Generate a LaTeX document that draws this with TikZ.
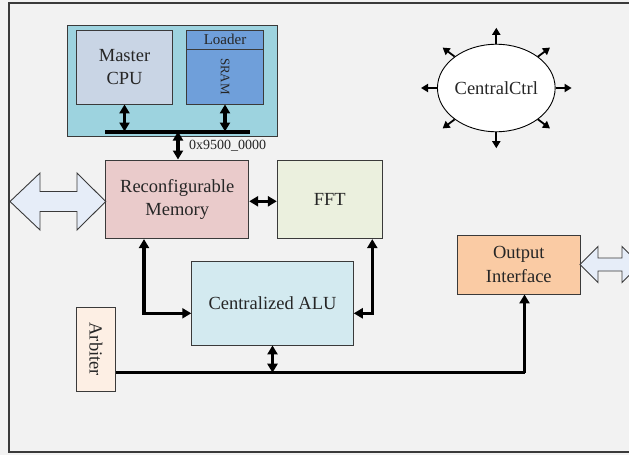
\documentclass[tikz,border=0pt]{standalone}
\usepackage{fontspec}
\setmainfont{Liberation Serif}
\usetikzlibrary{arrows.meta,shapes.geometric}
\definecolor{bg}{HTML}{F2F2F2}
\definecolor{ink}{HTML}{262626}
\definecolor{edge}{HTML}{3A3A3A}
\definecolor{teal}{HTML}{9DD3DF}
\definecolor{cpuc}{HTML}{C9D5E5}
\definecolor{sramc}{HTML}{6F9FDA}
\definecolor{memc}{HTML}{EACBCB}
\definecolor{fftc}{HTML}{EBF0DE}
\definecolor{aluc}{HTML}{D3EAF0}
\definecolor{arbc}{HTML}{FDEFE4}
\definecolor{outc}{HTML}{FACBA4}
\definecolor{bigc}{HTML}{E6EDF8}
\tikzset{
  blk/.style={draw=edge, line width=0.9pt, inner sep=0pt, align=center, text=ink,
    font=\fontsize{18.5}{23.5}\selectfont},
  conn/.style={line width=3.4pt, black, {Triangle[length=9pt,width=10pt]}-{Triangle[length=9pt,width=10pt]}},
  conn1/.style={line width=3.4pt, black, -{Triangle[length=9pt,width=10pt]}},
  ray/.style={line width=1.8pt, black, -{Triangle[length=7pt,width=8pt]}},
  hollow/.style={draw=edge, line width=0.9pt, fill=bigc, line join=miter}
}
\begin{document}
\begin{tikzpicture}[x=1pt,y=-1pt]
\useasboundingbox (0,0) rectangle (629,455);
\clip (0,0) rectangle (629,455);
\fill[bg] (0,0) rectangle (629,455);
\draw[edge, line width=1.2pt] (9,3) rectangle (650,452);

% top container
\node[blk, fill=teal, minimum width=210pt, minimum height=111.5pt] (top) at (172.3,80.8) {};
\node[blk, fill=cpuc, minimum width=95.6pt, minimum height=74pt] (cpu) at (124.5,67) {Master\\CPU};
\node[blk, fill=sramc, minimum width=76.6pt, minimum height=74pt] (sram) at (225,67) {};
\node[blk, fill=sramc, minimum width=76.6pt, minimum height=19pt, font=\fontsize{15}{18}\selectfont] (loader) at (225,39.5) {Loader};
\node[text=ink, font=\fontsize{13}{15}\selectfont, rotate=-90] (sramt) at (225,76.5) {SRAM};
\coordinate (busL) at (105,131.5);
\coordinate (busR) at (250,131.5);
\draw[line width=4pt, black] (busL) -- (busR);
\coordinate (bx) at (178,131.5);
\draw[conn] (cpu.south) -- (cpu.south |- busL);
\draw[conn] (sram.south) -- (sram.south |- busL);

% main blocks
\node[blk, fill=memc, minimum width=143pt, minimum height=78.7pt] (mem) at (177.2,199.3) {Reconfigurable\\Memory};
\node[blk, fill=fftc, minimum width=105pt, minimum height=78.7pt] (fft) at (329.8,199.3) {FFT};
\node[blk, fill=aluc, minimum width=161.6pt, minimum height=83.3pt] (alu) at (272.5,303.3) {Centralized ALU};
\node[blk, fill=arbc, minimum width=38.6pt, minimum height=84pt] (arb) at (96,349.3) {};
\node[text=ink, font=\fontsize{18.5}{23.5}\selectfont, rotate=-90] (arbt) at (96,349.3) {Arbiter};
\node[blk, fill=outc, minimum width=122.3pt, minimum height=59pt] (out) at (518.8,264.5) {Output\\Interface};

\draw[conn] (bx) -- (bx |- mem.north);
\node[text=ink, font=\fontsize{14}{16}\selectfont, anchor=west, inner sep=0pt] (addr) at (189,146) {0x9500\_0000};

\draw[conn] ([yshift=-2pt]mem.east) -- ([yshift=-2pt]fft.west);

\coordinate (ml) at (144,313.3);
\coordinate (fr) at (372.3,313.3);
\draw[conn] (mem.south -| ml) -- (ml) -- (alu.west |- ml);
\draw[conn] (fft.south -| fr) -- (fr) -- (alu.east |- fr);

\coordinate (hl) at (524.5,372.7);
\draw[line width=3.4pt, black] (arb.east |- hl) -- (hl);
\draw[conn1] (hl) -- (hl |- out.south);
\draw[conn] (alu.south) -- (alu.south |- hl);

% hollow arrows
\draw[hollow] (10,201.5) -- (40,173) -- (40,191.5) -- (77,191.5) -- (77,173) -- (105.7,201.5)
  -- (77,230) -- (77,211.5) -- (40,211.5) -- (40,230) -- cycle;
\draw[hollow] (580,264.5) -- (598,246.5) -- (598,258) -- (622,258) -- (622,246.5) -- (640,264.5)
  -- (622,282.5) -- (622,271) -- (598,271) -- (598,282.5) -- cycle;

% central control
\node[ellipse, draw=black, line width=0.9pt, fill=white, minimum width=116pt, minimum height=87.5pt,
  inner sep=0pt, text=ink, font=\fontsize{18.5}{23.5}\selectfont] (ctrl) at (496.3,88) {CentralCtrl};
\foreach \a in {0,90,180,270} {
  \draw[ray] (ctrl.\a) -- ++(\a:16pt);
}
\foreach \a in {37,143,217,323} {
  \draw[ray] (ctrl.\a) -- ++(\a:15pt);
}
\end{tikzpicture}
\end{document}
